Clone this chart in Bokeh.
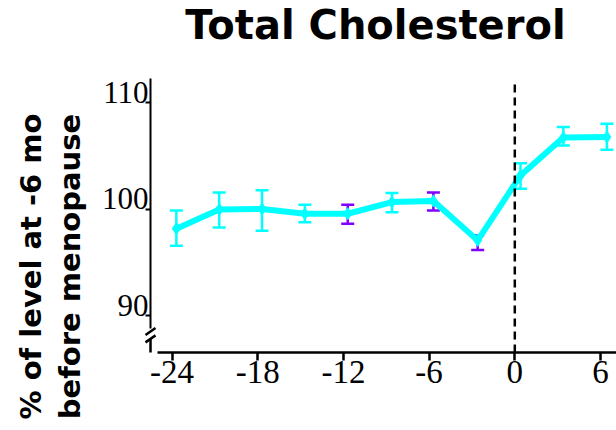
from bokeh.plotting import figure
from bokeh.models import Range1d, FixedTicker, Label, LabelSet, ColumnDataSource
from bokeh.embed import file_html
from bokeh.resources import INLINE

# ---- data ----
months = [-23.7, -20.7, -17.7, -14.7, -11.7, -8.6, -5.7, -2.6, 0.4, 3.4, 6.45]
means = [98.2, 100.0, 100.05, 99.6, 99.6, 100.7, 100.8, 97.1, 103.2, 106.75, 106.8]
upper = [99.9, 101.6, 101.8, 100.45, 100.45, 101.55, 101.6, 97.55, 104.35, 107.75, 108.05]
lower = [96.6, 98.3, 98.0, 98.8, 98.65, 99.75, 99.9, 96.2, 101.95, 106.0, 105.6]
err_colors = ["#00ffff", "#00ffff", "#00ffff", "#00ffff", "#7f00ff", "#00ffff",
              "#7f00ff", "#7f00ff", "#00ffff", "#00ffff", "#00ffff"]
xticks = [-24, -18, -12, -6, 0, 6]
xtick_labels = ["-24", "-18", "-12", "-6", "0", "6"]
yticks = [90, 100, 110]
ytick_labels = ["90", "100", "110"]
title_text = "Total Cholesterol"
ylabel_lines = ["% of level at -6 mo", "before menopause"]

# ---- layout: the frame fills the canvas, axes sit at fixed locations ----
W, H = 616, 430
X0, X1 = -36.015, 7.122
Y0, Y1 = 79.25, 119.62
dxpx = (X1 - X0) / W
dypx = (Y1 - Y0) / H
YAX_X = -25.51          # where the y axis stands
XAX_Y = 86.573          # where the x axis stands
Y_TOP = 112.3           # top end of the y axis
BRK_HI, BRK_LO = 88.83, 87.8   # axis break

p = figure(width=W, height=H, x_range=Range1d(X0, X1), y_range=Range1d(Y0, Y1),
           output_backend="svg", toolbar_location=None, title=None, min_border=0)
p.xgrid.visible = False
p.ygrid.visible = False
p.outline_line_color = None
p.background_fill_color = "white"
p.border_fill_color = "white"

src = ColumnDataSource(dict(x=months, y=means, up=upper, lo=lower, c=err_colors))

# error bars
p.segment(x0="x", y0="lo", x1="x", y1="up", source=src, line_color="c", line_width=2.5)
p.scatter(x="x", y="up", source=src, marker="dash", size=13, line_color="c", line_width=2.5)
p.scatter(x="x", y="lo", source=src, marker="dash", size=13, line_color="c", line_width=2.5)
# line + markers
p.line(x="x", y="y", source=src, line_color="#00ffff", line_width=6)
p.scatter(x="x", y="y", source=src, marker="diamond", size=12,
          fill_color="#00ffff", line_color="#00ffff")

# menopause line at month 0
p.segment(x0=[0], y0=[XAX_Y], x1=[0], y1=[Y_TOP - 0.4], line_color="black",
          line_width=2.5, line_dash="8 5")

# x axis
xa = p.xaxis[0]
xa.fixed_location = XAX_Y
xa.ticker = FixedTicker(ticks=xticks)
xa.major_label_overrides = {t: s for t, s in zip(xticks, xtick_labels)}
xa.bounds = (-25, X1)
xa.axis_line_width = 2.5
xa.major_tick_line_width = 2.5
xa.major_tick_out = 8
xa.major_tick_in = 0
xa.minor_tick_line_color = None
xa.major_label_text_font = "Liberation Serif"
xa.major_label_text_font_size = "33px"
xa.major_label_text_color = "black"
xa.major_label_standoff = 1

# y axis (labels set on their tick baseline, as in the original)
ya = p.yaxis[0]
ya.fixed_location = YAX_X
ya.ticker = FixedTicker(ticks=yticks)
ya.major_label_overrides = {t: "" for t in yticks}
ya.major_label_standoff = 0
ya.bounds = (BRK_HI, Y_TOP)
ya.axis_line_width = 2
ya.major_tick_line_width = 2
ya.major_tick_out = 5
ya.major_tick_in = 0
ya.minor_tick_line_color = None
ya.minor_tick_out = 0

ysrc = ColumnDataSource(dict(y=yticks, t=ytick_labels))
p.add_layout(LabelSet(x=YAX_X, y="y", text="t", source=ysrc, x_offset=-2,
                      text_align="right", text_baseline="alphabetic",
                      text_font="Liberation Serif", text_font_size="31px",
                      text_color="black"))

# axis break
p.segment(x0=[YAX_X], y0=[BRK_LO], x1=[YAX_X], y1=[XAX_Y], line_color="black", line_width=2.5)
bx = [YAX_X] * 2
by = [88.55, 87.85]
p.segment(x0=[x - 5 * dxpx for x in bx], y0=[y - 3.5 * dypx for y in by],
          x1=[x + 5 * dxpx for x in bx], y1=[y + 3.5 * dypx for y in by],
          line_color="black", line_width=2.5)

# title
p.add_layout(Label(x=375, y=H - 24, x_units="screen", y_units="screen",
                   text=title_text, text_align="center", text_baseline="middle",
                   text_font="DejaVu Sans", text_font_style="bold",
                   text_font_size="40px", text_color="black"))

# y axis title (two lines)
for txt, xo in zip(ylabel_lines, (30, 69)):
    p.add_layout(Label(x=xo, y=H - 266, x_units="screen", y_units="screen", angle=90,
                       angle_units="deg", text=txt, text_align="center",
                       text_baseline="middle", text_font="DejaVu Sans",
                       text_font_style="bold", text_font_size="29px",
                       text_color="black"))

open("out.html", "w").write(file_html(p, INLINE))
